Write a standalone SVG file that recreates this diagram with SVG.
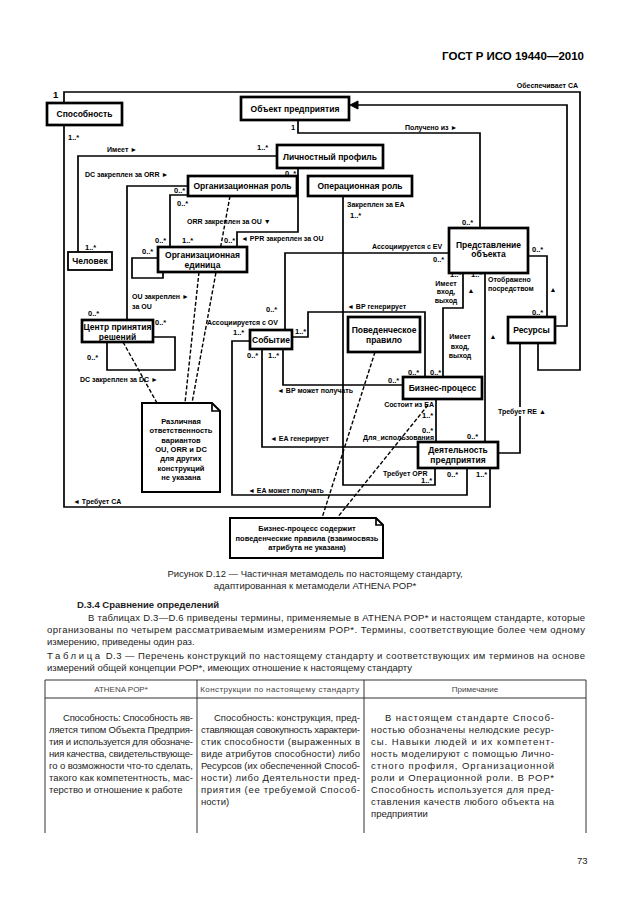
<svg xmlns="http://www.w3.org/2000/svg" width="630" height="913" viewBox="0 0 630 913">
<style>
.box{fill:#fff;stroke:#000;stroke-width:2.7}
.thin{fill:#fff;stroke:#000;stroke-width:1.8}
.ln{fill:none;stroke:#000;stroke-width:1.7}
.dash{fill:none;stroke:#000;stroke-width:1.4;stroke-dasharray:4 2}
.note{fill:#fff;stroke:#000;stroke-width:2}
text{font-family:"Liberation Sans",Arial,sans-serif}
.bl{font-size:8.5px;font-weight:bold;text-anchor:middle}
.al{font-size:7px;font-weight:bold}
.m{font-size:7.5px;font-weight:bold}
.nt{font-size:7.5px;font-weight:bold;text-anchor:middle}
.ar{font-size:7px;font-weight:bold;text-anchor:middle}
.body{font-size:9.5px;fill:#222}
.hd{font-size:8px;fill:#444;text-anchor:middle}
.tl{fill:none;stroke:#333;stroke-width:1}
</style>
<rect width="630" height="913" fill="#fff"/>
<text x="584" y="60" font-size="11.5" font-weight="bold" text-anchor="end">ГОСТ Р ИСО 19440—2010</text>

<g id="connectors">
<path class="ln" d="M64,103 V92 H580 V370 H538 V343"/>
<path class="ln" d="M555,326 H567 V105 H358"/>
<polygon points="350,105 358,101 358,109" fill="#000" stroke="#000" stroke-width="1"/>
<path class="ln" d="M298,120 V133 H480 V228"/>
<path class="ln" d="M277,156 H78 V252"/>
<path class="ln" d="M64,125 V507 H490 V468"/>
<path class="ln" d="M188,186 H127 V320"/>
<path class="ln" d="M188,195 H170 V247"/>
<path class="ln" d="M298,168 V232 H237 V247"/>
<path class="ln" d="M158,258 H132 V278 H163 V272"/>
<path class="ln" d="M153,337 H175 V370 H107 V342"/>
<path class="ln" d="M343,196 V485 H435 V468"/>
<path class="ln" d="M449,253 H285 V330"/>
<path class="ln" d="M528,256 H547 V317"/>
<path class="ln" d="M463,273 V308 H443 V377"/>
<path class="ln" d="M485,273 V442"/>
<path class="ln" d="M292,337 H308 V312 H425 V377"/>
<path class="ln" d="M283,349 V385 H403"/>
<path class="ln" d="M262,349 V447 H418"/>
<path class="ln" d="M250,341 H232 V495 H467 V468"/>
<path class="ln" d="M436,399 V442"/>
<path class="ln" d="M520,343 V453 H498"/>
<path class="dash" d="M375,352 L322,518"/>
<path class="dash" d="M428,405 L337,518"/>
<path class="dash" d="M199,272 L185,403"/>
<path class="dash" d="M230,196 L192,403"/>
<path class="dash" d="M123,342 L157,403"/>
</g>

<g id="labels">
<text x="53" y="98" font-size="9.5" font-weight="bold">1</text>
<text class="al" x="578" y="88" text-anchor="end">Обеспечивает CA</text>
<text class="m" x="68" y="140">1..*</text>
<text class="m" x="291" y="130">1</text>
<text class="al" x="405" y="130">Получено из ►</text>
<text class="m" x="257" y="150">1..*</text>
<text class="al" x="107" y="152">Имеет ►</text>
<text class="al" x="85" y="177">DC закреплен за ORR ►</text>
<text class="m" x="285" y="176">0..*</text>
<text class="m" x="174" y="193">0..*</text>
<text class="m" x="177" y="206">0..*</text>
<text class="al" x="187" y="224">ORR закреплен за OU ▼</text>
<text class="m" x="155" y="243">0..*</text>
<text class="m" x="182" y="243">1..*</text>
<text class="m" x="224" y="243">0..*</text>
<text class="al" x="241" y="241">◄ PPR закреплен за OU</text>
<text class="m" x="142" y="254">0..*</text>
<text class="m" x="85" y="250">1..*</text>
<text class="al" x="132" y="299">OU закреплен ►</text>
<text class="al" x="132" y="309">за OU</text>
<text class="al" x="347" y="207">Закреплен за EA</text>
<text class="m" x="350" y="218">1..*</text>
<text class="m" x="462" y="225">0..*</text>
<text class="al" x="372" y="249">Ассоциируется с EV</text>
<text class="m" x="433" y="262">0..*</text>
<text class="m" x="532" y="252">0..*</text>
<text class="m" x="450" y="277">1..*</text>
<text class="m" x="471" y="277">1..*</text>
<text class="ar" x="446" y="285.5">Имеет</text>
<text class="ar" x="446" y="294">вход,</text>
<text class="ar" x="446" y="302.5">выход</text>
<text class="ar" x="471" y="293">▲</text>
<text class="al" x="488" y="282">Отображено</text>
<text class="al" x="488" y="291">посредством</text>
<text class="ar" x="553" y="292">▲</text>
<text class="al" x="347" y="309">◄ BP генерирует</text>
<text class="m" x="532" y="315">0..*</text>
<text class="al" x="207" y="325">Ассоциируется с OV</text>
<text class="m" x="266" y="312">0..*</text>
<text class="m" x="88" y="316">0..*</text>
<text class="m" x="155" y="325">0..*</text>
<text class="m" x="233" y="335">1..*</text>
<text class="m" x="295" y="334">1..*</text>
<text class="m" x="247" y="358">0..*</text>
<text class="m" x="268" y="358">1..*</text>
<text class="ar" x="460" y="339">Имеет</text>
<text class="ar" x="460" y="349">вход,</text>
<text class="ar" x="460" y="358">выход</text>
<text class="ar" x="493" y="339">▲</text>
<text class="m" x="87" y="360">0..*</text>
<text class="al" x="80" y="382">DC закреплен за DC ►</text>
<text class="m" x="408" y="375">0..*</text>
<text class="m" x="430" y="375">0..*</text>
<text class="m" x="388" y="383">0..*</text>
<text class="al" x="277" y="393">◄ BP может получать</text>
<text class="al" x="434" y="407" text-anchor="end">Состоит из EA</text>
<text class="m" x="422" y="418">1..*</text>
<rect x="497" y="407" width="52" height="9" fill="#fff"/>
<text class="al" x="498" y="414">Требует RE ▲</text>
<text class="m" x="422" y="433">0..*</text>
<text class="al" x="270" y="441">◄ EA генерирует</text>
<text class="al" x="363" y="440">Для_использования</text>
<text class="m" x="467" y="439">0..*</text>
<text class="m" x="447" y="477">0..*</text>
<text class="m" x="476" y="477">1..*</text>
<text class="al" x="383" y="476">Требует OPR</text>
<text class="m" x="421" y="483">1..*</text>
<text class="al" x="248" y="493">◄ EA может получать</text>
<text class="al" x="73" y="504">◄ Требует CA</text>
</g>

<g id="n-sposobnost"><rect class="box" x="47" y="103" width="75" height="22"/><text class="bl" x="84.5" y="117">Способность</text></g>
<g id="n-obekt"><rect class="box" x="241" y="97" width="108" height="23"/><text class="bl" x="295" y="111.5">Объект предприятия</text></g>
<g id="n-profil"><rect class="box" x="277" y="145" width="106" height="23"/><text class="bl" x="330" y="159.5">Личностный профиль</text></g>
<g id="n-orgrol"><rect class="box" x="188" y="176" width="109" height="20"/><text class="bl" x="242.5" y="189">Организационная роль</text></g>
<g id="n-oprol"><rect class="box" x="308" y="176" width="104" height="20"/><text class="bl" x="360" y="189">Операционная роль</text></g>
<g id="n-chelovek"><rect class="thin" x="68" y="252" width="44" height="18"/><text class="bl" x="90" y="264" font-size="7.5">Человек</text></g>
<g id="n-orged"><rect class="box" x="158" y="247" width="89" height="25"/><text class="bl" x="202.5" y="257.5">Организационная</text><text class="bl" x="202.5" y="267.5">единица</text></g>
<g id="n-predst"><rect class="box" x="449" y="228" width="79" height="45"/><text class="bl" x="488.5" y="248">Представление</text><text class="bl" x="488.5" y="257">объекта</text></g>
<g id="n-resursy"><rect class="box" x="508" y="317" width="47" height="26"/><text class="bl" x="531.5" y="333">Ресурсы</text></g>
<g id="n-centr"><rect class="box" x="82" y="320" width="71" height="22"/><text class="bl" x="117.5" y="330">Центр принятия</text><text class="bl" x="117.5" y="340">решений</text></g>
<g id="n-sobytie"><rect class="box" x="250" y="330" width="42" height="19"/><text class="bl" x="271" y="342.5">Событие</text></g>
<g id="n-pravilo"><rect class="box" x="348" y="317" width="72" height="35"/><text class="bl" x="384" y="333">Поведенческое</text><text class="bl" x="384" y="343">правило</text></g>
<g id="n-bp"><rect class="box" x="403" y="377" width="79" height="22"/><text class="bl" x="442.5" y="391">Бизнес-процесс</text></g>
<g id="n-deyat"><rect class="box" x="418" y="442" width="80" height="26"/><text class="bl" x="458" y="453">Деятельность</text><text class="bl" x="458" y="463">предприятия</text></g>
<g id="n-note1"><path class="note" d="M142,403 H212 L220,411 V492 H142 Z"/><path class="ln" d="M212,403 V411 H220"/>
<text class="nt" x="181" y="424">Различная</text><text class="nt" x="181" y="433.3">ответственность</text><text class="nt" x="181" y="442.6">вариантов</text><text class="nt" x="181" y="452" font-size="8">OU, ORR и DC</text><text class="nt" x="181" y="461.3">для других</text><text class="nt" x="181" y="470.6">конструкций</text><text class="nt" x="181" y="480">не указана</text></g>
<g id="n-note2"><path class="note" d="M230,518 H376 L383,525 V558 H230 Z"/><path class="ln" d="M376,518 V525 H383"/>
<text class="nt" x="307" y="531" font-size="7">Бизнес-процесс содержит</text><text class="nt" x="307" y="540.5" font-size="7">поведенческие правила (взаимосвязь</text><text class="nt" x="307" y="550" font-size="7">атрибута не указана)</text></g>

<g id="text">
<text class="body" x="315" y="577" text-anchor="middle">Рисунок D.12 — Частичная метамодель по настоящему стандарту,</text>
<text class="body" x="315" y="589" text-anchor="middle">адаптированная к метамодели ATHENA POP*</text>
<text class="body" x="77" y="608" font-weight="bold">D.3.4 Сравнение определений</text>
<text class="body" x="88" y="621" textLength="497" lengthAdjust="spacing">В таблицах D.3—D.6 приведены термины, применяемые в ATHENA POP* и настоящем стандарте, которые</text>
<text class="body" x="47" y="633" textLength="538" lengthAdjust="spacing">организованы по четырем рассматриваемым измерениям POP*. Термины, соответствующие более чем одному</text>
<text class="body" x="47" y="645">измерению, приведены один раз.</text>
<text class="body" x="47" y="659" textLength="538" lengthAdjust="spacing"><tspan letter-spacing="2.2">Таблица</tspan> D.3 — Перечень конструкций по настоящему стандарту и соответствующих им терминов на основе</text>
<text class="body" x="47" y="671">измерений общей концепции POP*, имеющих отношение к настоящему стандарту</text>
</g>

<g id="table">
<path class="tl" d="M45,833 V680 H586 V833 M45,698 H586 M197,680 V833 M364,680 V833"/>
<text class="hd" x="121" y="692">ATHENA POP*</text>
<text class="hd" x="280" y="692" letter-spacing="0.4">Конструкции по настоящему стандарту</text>
<text class="hd" x="475" y="692">Примечание</text>
<g class="body">
<text x="63" y="721" textLength="130" lengthAdjust="spacing">Способность: Способность яв-</text>
<text x="49" y="733" textLength="144" lengthAdjust="spacing">ляется типом Объекта Предприя-</text>
<text x="49" y="745" textLength="144" lengthAdjust="spacing">тия и используется для обозначе-</text>
<text x="49" y="757" textLength="144" lengthAdjust="spacing">ния качества, свидетельствующе-</text>
<text x="49" y="769" textLength="144" lengthAdjust="spacing">го о возможности что-то сделать,</text>
<text x="49" y="781" textLength="144" lengthAdjust="spacing">такого как компетентность, мас-</text>
<text x="49" y="793">терство и отношение к работе</text>
<text x="214" y="721" textLength="146" lengthAdjust="spacing">Способность: конструкция, пред-</text>
<text x="201" y="733" textLength="159" lengthAdjust="spacing">ставляющая совокупность характери-</text>
<text x="201" y="745" textLength="159" lengthAdjust="spacing">стик способности (выраженных в</text>
<text x="201" y="757" textLength="159" lengthAdjust="spacing">виде атрибутов способности) либо</text>
<text x="201" y="769" textLength="159" lengthAdjust="spacing">Ресурсов (их обеспеченной Способ-</text>
<text x="201" y="781" textLength="159" lengthAdjust="spacing">ности) либо Деятельности пред-</text>
<text x="201" y="793" textLength="159" lengthAdjust="spacing">приятия (ее требуемой Способ-</text>
<text x="201" y="805">ности)</text>
<text x="385" y="721" textLength="169" lengthAdjust="spacing">В настоящем стандарте Способ-</text>
<text x="371" y="733" textLength="183" lengthAdjust="spacing">ностью обозначены нелюдские ресур-</text>
<text x="371" y="745" textLength="183" lengthAdjust="spacing">сы. Навыки людей и их компетент-</text>
<text x="371" y="757" textLength="183" lengthAdjust="spacing">ность моделируют с помощью Лично-</text>
<text x="371" y="769" textLength="183" lengthAdjust="spacing">стного профиля, Организационной</text>
<text x="371" y="781" textLength="183" lengthAdjust="spacing">роли и Операционной роли. В POP*</text>
<text x="371" y="793" textLength="183" lengthAdjust="spacing">Способность используется для пред-</text>
<text x="371" y="805" textLength="183" lengthAdjust="spacing">ставления качеств любого объекта на</text>
<text x="371" y="817">предприятии</text>
</g>
</g>
<text class="body" x="577" y="864" font-size="10">73</text>
</svg>
